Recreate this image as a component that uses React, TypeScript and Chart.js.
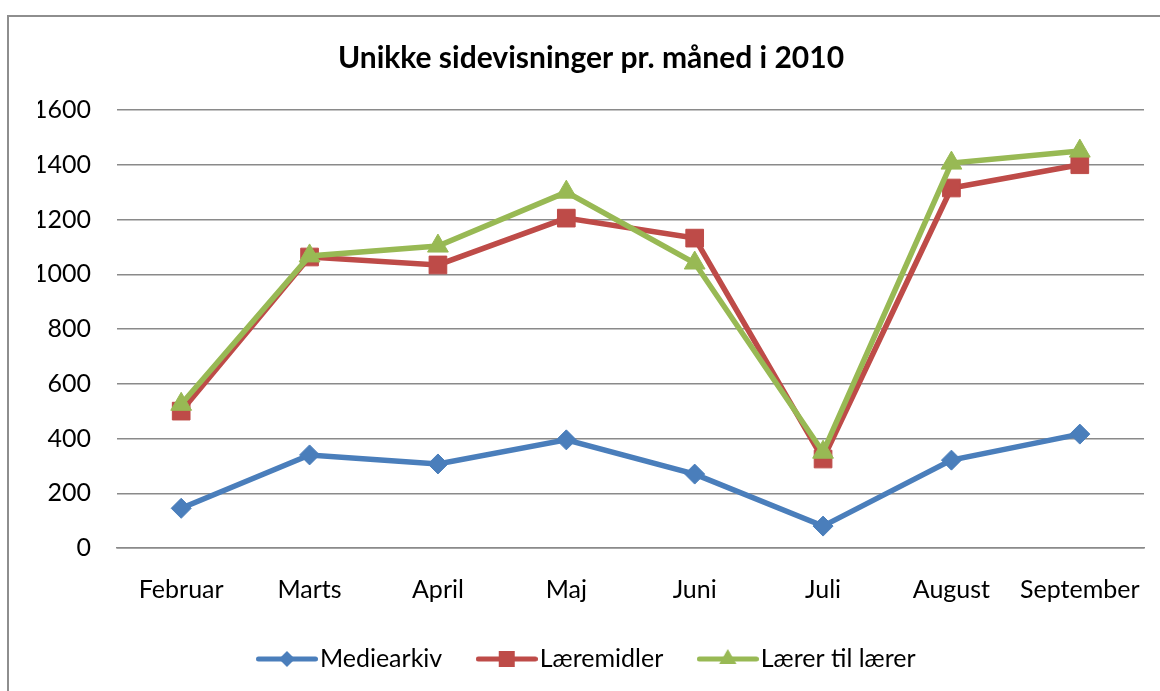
import React, { useEffect, useRef } from 'react';
import { Chart, registerables } from 'chart.js';

Chart.register(...registerables);

const categories = ['Februar', 'Marts', 'April', 'Maj', 'Juni', 'Juli', 'August', 'September'];
const mediearkiv = [145, 340, 307, 395, 270, 80, 321, 416];
const laeremidler = [500, 1063, 1034, 1205, 1132, 325, 1315, 1400];
const laererTilLaerer = [525, 1067, 1103, 1300, 1041, 350, 1406, 1450];
const seriesNames = ['Mediearkiv', 'Læremidler', 'Lærer til lærer'];
const yTicks = { min: 0, max: 1600, step: 200 };

const BLUE = '#4A7EBB';
const RED = '#BE4B48';
const GREEN = '#98B954';
const FONT = 'Lato, "Open Sans", sans-serif';

function legendImage(color: string, marker: string): HTMLCanvasElement {
  const c = document.createElement('canvas');
  c.width = 62;
  c.height = 24;
  const ctx = c.getContext('2d')!;
  ctx.strokeStyle = color;
  ctx.fillStyle = color;
  ctx.lineWidth = 5;
  ctx.lineCap = 'round';
  ctx.beginPath();
  ctx.moveTo(2.5, 12);
  ctx.lineTo(59.5, 12);
  ctx.stroke();
  const cx = 31, cy = 12;
  ctx.beginPath();
  if (marker === 'diamond') {
    ctx.moveTo(cx, cy - 8);
    ctx.lineTo(cx + 8, cy);
    ctx.lineTo(cx, cy + 8);
    ctx.lineTo(cx - 8, cy);
  } else if (marker === 'square') {
    ctx.rect(cx - 8, cy - 8, 16, 16);
  } else {
    const r = 10;
    ctx.moveTo(cx, cy - r);
    ctx.lineTo(cx + r * Math.sin((2 * Math.PI) / 3), cy - r * Math.cos((2 * Math.PI) / 3));
    ctx.lineTo(cx + r * Math.sin((4 * Math.PI) / 3), cy - r * Math.cos((4 * Math.PI) / 3));
  }
  ctx.closePath();
  ctx.fill();
  return c;
}

export default function App() {
  const ref = useRef<HTMLCanvasElement | null>(null);

  useEffect(() => {
    if (!ref.current) return;
    const colors = [BLUE, RED, GREEN];
    const markers = ['diamond', 'square', 'triangle'];
    const imgs = colors.map((c, i) => legendImage(c, markers[i]));

    const chart = new Chart(ref.current, {
      type: 'line',
      data: {
        labels: categories,
        datasets: [
          {
            label: seriesNames[0],
            data: mediearkiv,
            borderColor: BLUE,
            backgroundColor: BLUE,
            borderWidth: 5.5,
            pointStyle: 'rectRot',
            pointRadius: 10,
            pointBorderWidth: 1,
            pointBorderColor: BLUE,
            pointBackgroundColor: BLUE,
            tension: 0,
            order: 3,
          },
          {
            label: seriesNames[1],
            data: laeremidler,
            borderColor: RED,
            backgroundColor: RED,
            borderWidth: 5.5,
            pointStyle: 'rect',
            pointRadius: 12.5,
            pointBorderWidth: 1,
            pointBorderColor: RED,
            pointBackgroundColor: RED,
            tension: 0,
            order: 2,
          },
          {
            label: seriesNames[2],
            data: laererTilLaerer,
            borderColor: GREEN,
            backgroundColor: GREEN,
            borderWidth: 5.5,
            pointStyle: 'triangle',
            pointRadius: 12,
            pointBorderWidth: 1,
            pointBorderColor: GREEN,
            pointBackgroundColor: GREEN,
            tension: 0,
            order: 1,
          },
        ],
      },
      options: {
        animation: false,
        responsive: false,
        maintainAspectRatio: false,
        layout: { padding: { left: 29, right: 16, top: 0, bottom: 9.5 } },
        plugins: {
          tooltip: { enabled: false },
          title: {
            display: true,
            text: 'Unikke sidevisninger pr. måned i 2010',
            color: '#000',
            font: { family: FONT, size: 30, weight: 'bold', lineHeight: 1.2 },
            padding: { top: 23, bottom: 34 },
          },
          legend: {
            display: true,
            position: 'bottom',
            labels: {
              color: '#000',
              font: { family: FONT, size: 25 },
              usePointStyle: true,
              pointStyleWidth: 41,
              boxHeight: 25,
              padding: 44,
              generateLabels: () =>
                seriesNames.map((name, i) => ({
                  text: name,
                  pointStyle: imgs[i],
                  fillStyle: colors[i],
                  strokeStyle: colors[i],
                  lineWidth: 0,
                  hidden: false,
                  datasetIndex: i,
                  fontColor: '#000',
                })),
            },
          },
        },
        scales: {
          x: {
            offset: true,
            grid: { display: false, drawTicks: false },
            border: { display: true, color: '#8a8a8a', width: 1.5 },
            ticks: { color: '#000', font: { family: FONT, size: 25, lineHeight: '84px' }, padding: 0, maxRotation: 0 },
            afterFit: (scale: any) => {
              scale.height = 54.5;
            },
          },
          y: {
            min: yTicks.min,
            max: yTicks.max,
            grid: { color: '#8a8a8a', lineWidth: 1.5, drawTicks: false },
            border: { display: false },
            ticks: {
              stepSize: yTicks.step,
              color: '#000',
              font: { family: FONT, size: 25, lineHeight: 1.2 },
              padding: 26,
              callback: (v: any) => String(v),
            },
            afterFit: (scale: any) => {
              scale.width = 79;
            },
          },
        },
      },
    });
    return () => chart.destroy();
  }, []);

  return (
    <div style={{ position: 'fixed', left: 0, top: 0, width: 1160, height: 691, overflow: 'hidden', background: '#fff' }}>
      <div
        style={{
          position: 'absolute',
          left: 7,
          top: 15,
          width: 1200,
          height: 720,
          border: '2px solid #8e8e8e',
          boxSizing: 'border-box',
        }}
      >
        <canvas ref={ref} width={1151} height={674} style={{ display: 'block', width: 1151, height: 674 }} />
      </div>
    </div>
  );
}
